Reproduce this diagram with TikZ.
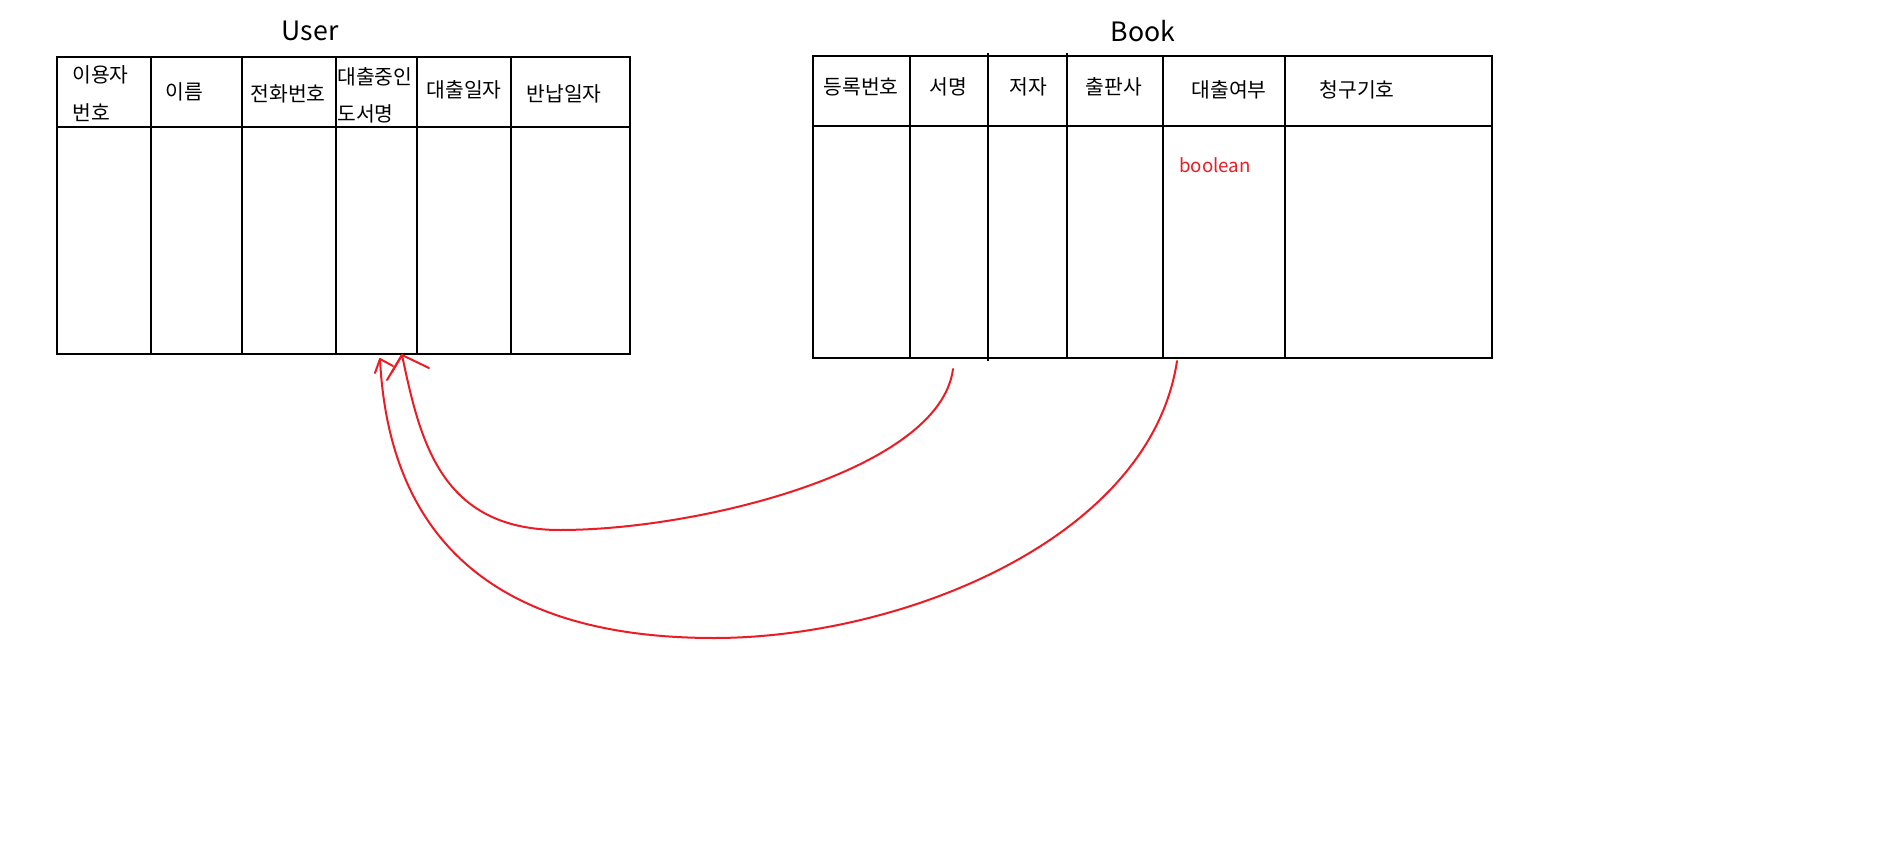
\documentclass[tikz,border=0pt]{standalone}
\usepackage{fontspec}
\setmainfont{Noto Sans CJK KR}
\definecolor{pen}{RGB}{237,28,36}
\begin{document}
\begin{tikzpicture}[x=0.75pt,y=-0.75pt,
  rule/.style={black,line width=0.9pt},
  hdr/.style={font=\fontsize{15.3}{18}\selectfont,inner sep=0pt},
  ttl/.style={font=\fontsize{20}{24}\selectfont,inner sep=0pt},
  note/.style={font=\fontsize{14}{17}\selectfont,inner sep=0pt,text=pen},
  link/.style={pen,line width=1.5pt,line cap=round,line join=round}]
\fill[white] (0,0) rectangle (1897,852);
\useasboundingbox (0,0) rectangle (1897,852);
% User table
\draw[rule] (57,57) rectangle (630,354);
\draw[rule] (57,127) -- (630,127);
\foreach \x in {151,242,336,417,511} \draw[rule] (\x,57) -- (\x,354);
\node[ttl] (usert) at (310,31) {User};
\node[hdr,anchor=west] (u1a) at (72,75) {이용자};
\node[hdr,anchor=west] (u1b) at (72,113) {번호};
\node[hdr] (u2) at (184,92) {이름};
\node[hdr] (u3) at (288,94) {전화번호};
\node[hdr,anchor=west] (u4a) at (337,77) {대출중인};
\node[hdr,anchor=west] (u4b) at (337,114) {도서명};
\node[hdr] (u5) at (464,90) {대출일자};
\node[hdr] (u6) at (564,94) {반납일자};
% Book table
\draw[rule] (813,56) rectangle (1492,358);
\draw[rule] (813,126) -- (1492,126);
\foreach \x in {910,1163,1285} \draw[rule] (\x,56) -- (\x,358);
\draw[rule] (988,53) -- (988,361);
\draw[rule] (1067,53) -- (1067,358);
\node[ttl] (bookt) at (1143,31) {Book};
\node[hdr] (b1) at (861,87) {등록번호};
\node[hdr] (b2) at (948,87) {서명};
\node[hdr] (b3) at (1028,87) {저자};
\node[hdr] (b4) at (1114,87) {출판사};
\node[hdr] (b5) at (1229,90) {대출여부};
\node[hdr] (b6) at (1357,90) {청구기호};
\node[note] (bool) at (1215,165) {boolean};
% connectors
\coordinate (s1) at (953,369);
\coordinate (e1) at (402,355);
\coordinate (s2) at (1177,361);
\coordinate (e2) at (380,359);
\draw[link] (s1) .. controls (940,470) and (700,530) .. (560,530)
  .. controls (440,530) and (420,440) .. (e1);
\draw[link] (s2) .. controls (1150,540) and (900,638) .. (714,638)
  .. controls (520,638) and (390,560) .. (e2);
% hand-drawn arrow barbs
\draw[link] (e1) -- (429,368);
\draw[link] (e1) -- (387,380);
\draw[link] (e1) -- (392,372);
\draw[link] (e2) -- (375,373);
\draw[link] (e2) -- (393,366);
\end{tikzpicture}
\end{document}
